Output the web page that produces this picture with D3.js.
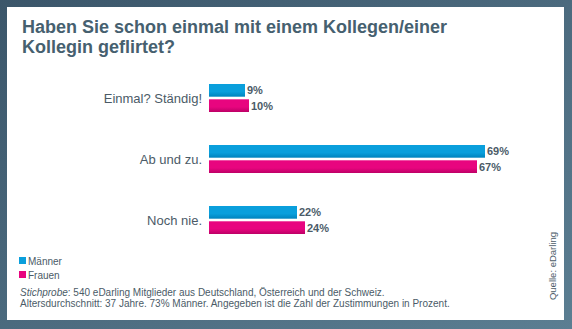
<!DOCTYPE html>
<html>
<head>
<meta charset="utf-8">
<script src="https://cdn.jsdelivr.net/npm/d3@7"></script>
<style>
  body { margin: 0; padding: 0; background: #ffffff; }
  svg { display: block; font-family: "Liberation Sans", Arial, sans-serif; }
</style>
</head>
<body>
<script>
(function(){

// data
var categories = ["Einmal? Ständig!", "Ab und zu.", "Noch nie."];
var seriesNames = ["Männer", "Frauen"];
var maenner = [9, 69, 22];
var frauen = [10, 67, 24];
var titleLines = ["Haben Sie schon einmal mit einem Kollegen/einer", "Kollegin geflirtet?"];
var noteLine1 = ["Stichprobe", ": 540 eDarling Mitglieder aus Deutschland, Österreich und der Schweiz."];
var noteLine2 = "Altersdurchschnitt: 37 Jahre. 73% Männer. Angegeben ist die Zahl der Zustimmungen in Prozent.";
var sourceText = "Quelle: eDarling";

var width = 572, height = 329;
var textColor = "#4b5b67";

var svg = d3.select("body").append("svg")
    .attr("width", width)
    .attr("height", height);

var defs = svg.append("defs");

// frame gradient
var frameGrad = defs.append("linearGradient")
    .attr("id", "frameGrad")
    .attr("x1", "0").attr("y1", "0").attr("x2", "1").attr("y2", "1");
frameGrad.append("stop").attr("offset", "0").attr("stop-color", "#3b566a");
frameGrad.append("stop").attr("offset", "1").attr("stop-color", "#5b7e92");

// bar gradients
var barColors = [["#0a9fdc", "#0083bd"], ["#e8057f", "#bd0066"]];
barColors.forEach(function(c, i){
    var g = defs.append("linearGradient")
        .attr("id", "barGrad" + i)
        .attr("x1", "0").attr("y1", "0").attr("x2", "0").attr("y2", "1");
    g.append("stop").attr("offset", "0").attr("stop-color", c[0]);
    g.append("stop").attr("offset", "0.6").attr("stop-color", c[0]);
    g.append("stop").attr("offset", "1").attr("stop-color", c[1]);
});

// frame + white panel
svg.append("rect")
    .attr("width", width).attr("height", height)
    .attr("fill", "url(#frameGrad)");
svg.append("rect")
    .attr("x", 7).attr("y", 7)
    .attr("width", 557).attr("height", 313)
    .attr("fill", "#ffffff");

// title
svg.append("text")
    .attr("x", 22).attr("y", 33)
    .attr("fill", "#46606f")
    .style("font-size", "18px")
    .style("font-weight", "bold")
    .selectAll("tspan")
    .data(titleLines)
    .enter()
    .append("tspan")
      .attr("x", 22)
      .attr("dy", function(d, i){ return i === 0 ? 0 : 20; })
      .text(function(d){ return d; });

// scales
var x = d3.scaleLinear()
    .domain([0, 100])
    .range([209, 609]);

var y0 = d3.scaleBand()
    .domain(categories)
    .range([84 - 16.5, 84 - 16.5 + 61 * 3])
    .paddingInner(0)
    .paddingOuter(0);

var y1 = d3.scaleBand()
    .domain(seriesNames)
    .range([0, 28])
    .paddingInner(0.17);

var groupOffset = (61 - 28) / 2;

var rows = categories.map(function(c, i){
    return { cat: c, values: [maenner[i], frauen[i]] };
});

var groups = svg.selectAll(".group")
    .data(rows)
    .enter()
    .append("g")
    .attr("class", "group")
    .attr("transform", function(d){
        return "translate(0," + (y0(d.cat) + groupOffset) + ")";
    });

// category labels
groups.append("text")
    .attr("x", 202)
    .attr("y", 14)
    .attr("text-anchor", "end")
    .attr("dominant-baseline", "central")
    .attr("fill", textColor)
    .style("font-size", "13px")
    .text(function(d){ return d.cat; });

// bars
groups.selectAll(".bar")
    .data(function(d){
        return d.values.map(function(v, i){ return { name: seriesNames[i], value: v, idx: i }; });
    })
    .enter()
    .append("rect")
    .attr("class", "bar")
    .attr("x", x(0))
    .attr("y", function(d){ return y1(d.name); })
    .attr("width", function(d){ return x(d.value) - x(0); })
    .attr("height", y1.bandwidth())
    .attr("fill", function(d){ return "url(#barGrad" + d.idx + ")"; });

// value labels
groups.selectAll(".val")
    .data(function(d){
        return d.values.map(function(v, i){ return { name: seriesNames[i], value: v }; });
    })
    .enter()
    .append("text")
    .attr("class", "val")
    .attr("x", function(d){ return x(d.value) + 2; })
    .attr("y", function(d){ return y1(d.name) + y1.bandwidth() / 2; })
    .attr("dominant-baseline", "central")
    .attr("fill", textColor)
    .style("font-size", "11px")
    .style("font-weight", "bold")
    .text(function(d){ return d.value + "%"; });

// legend
var legend = svg.selectAll(".legend")
    .data(seriesNames)
    .enter()
    .append("g")
    .attr("class", "legend")
    .attr("transform", function(d, i){ return "translate(19," + (257 + i * 14) + ")"; });

legend.append("rect")
    .attr("width", 7).attr("height", 7)
    .attr("fill", function(d, i){ return barColors[i][0]; });

legend.append("text")
    .attr("x", 9)
    .attr("y", 8)
    .attr("fill", textColor)
    .style("font-size", "10px")
    .text(function(d){ return d; });

// footnote
var note1 = svg.append("text")
    .attr("x", 20).attr("y", 295.5)
    .attr("fill", textColor)
    .style("font-size", "10px");
note1.append("tspan").style("font-style", "italic").text(noteLine1[0]);
note1.append("tspan").text(noteLine1[1]);

svg.append("text")
    .attr("x", 20).attr("y", 307)
    .attr("fill", textColor)
    .style("font-size", "10px")
    .text(noteLine2);

// source
svg.append("text")
    .attr("transform", "translate(556,266) rotate(-90)")
    .attr("text-anchor", "middle")
    .attr("fill", textColor)
    .style("font-size", "9.5px")
    .text(sourceText);

})();
</script>
</body>
</html>
